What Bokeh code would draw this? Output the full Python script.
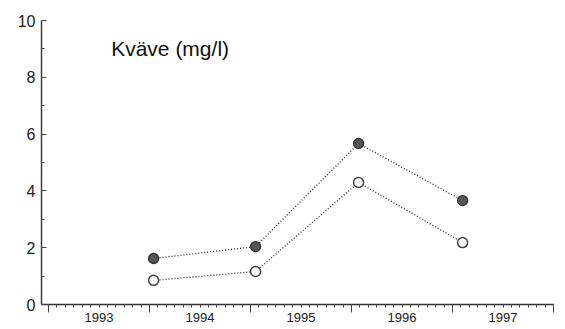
from bokeh.plotting import figure
from bokeh.models import LinearAxis, FixedTicker, Range1d, Label, CustomLabelingPolicy
from bokeh.embed import file_html
from bokeh.resources import INLINE

# data (decimal years)
dates = [1994.04, 1995.05, 1996.07, 1997.10]
filled_vals = [1.62, 2.04, 5.67, 3.66]
open_vals = [0.85, 1.16, 4.30, 2.18]

year_bounds = [1993, 1994, 1995, 1996, 1997, 1998]
year_labels = ["1993", "1994", "1995", "1996", "1997"]
y_major = [0, 2, 4, 6, 8, 10]
y_minor = [1, 3, 5, 7, 9]
title_text = "Kväve (mg/l)"

FONT = "Liberation Sans"

p = figure(frame_width=512, frame_height=284,
           x_range=Range1d(1992.93, 1998.0), y_range=Range1d(0, 10),
           output_backend="svg", toolbar_location=None,
           x_axis_location=None, y_axis_location=None,
           min_border_left=41, min_border_top=20, min_border_right=4,
           min_border_bottom=4)
p.outline_line_color = None
p.background_fill_color = "white"
p.border_fill_color = "white"
p.grid.visible = False

# y axis
yax = LinearAxis(ticker=FixedTicker(ticks=y_major, minor_ticks=y_minor))
yax.axis_line_color = "#333333"
yax.axis_line_width = 1.4
yax.major_tick_in = 5
yax.major_tick_out = 0
yax.minor_tick_in = 3
yax.minor_tick_out = 0
yax.major_tick_line_color = "#444444"
yax.minor_tick_line_color = "#444444"
yax.major_label_standoff = 6
yax.major_label_text_font = FONT
yax.major_label_text_font_size = "16px"
yax.major_label_text_color = "#222222"
p.add_layout(yax, "left")

# x axis: ticks at year boundaries and months, no labels
months = [year_bounds[0] + k / 12 for k in range(0, 12 * (len(year_bounds) - 1) + 1)]
xax = LinearAxis(ticker=FixedTicker(ticks=year_bounds, minor_ticks=months))
xax.axis_line_color = "#333333"
xax.axis_line_width = 1.4
xax.major_tick_in = 0
xax.major_tick_out = 8
xax.minor_tick_in = 0
xax.minor_tick_out = 3
xax.major_tick_line_color = "#444444"
xax.minor_tick_line_color = "#444444"
xax.major_label_standoff = 0
xax.major_label_text_font_size = "0px"
xax.major_label_policy = CustomLabelingPolicy(code="""
    for (const i of Array.from(indices)) indices.unset(i)
    return indices
""")
p.add_layout(xax, "below")

# x axis: year labels centred in each year
label_pos = [y + 0.5 for y in year_bounds[:-1]]
xlab = LinearAxis(ticker=FixedTicker(ticks=label_pos, minor_ticks=[]))
xlab.major_label_overrides = {pos: lab for pos, lab in zip(label_pos, year_labels)}
xlab.axis_line_color = None
xlab.major_tick_line_color = None
xlab.minor_tick_line_color = None
xlab.major_tick_in = 0
xlab.major_tick_out = 0
xlab.major_label_standoff = 0
xlab.major_label_text_font = FONT
xlab.major_label_text_font_size = "13px"
xlab.major_label_text_color = "#222222"
p.add_layout(xlab, "below")

# series
p.line(dates, filled_vals, line_dash="1 2", line_color="#333333", line_width=1.4)
p.line(dates, open_vals, line_dash="1 2", line_color="#333333", line_width=1.4)
p.scatter(dates, filled_vals, size=10, fill_color="#555555", line_color="#333333", line_width=1.3)
p.scatter(dates, open_vals, size=10, fill_color="white", line_color="#444444", line_width=1.5)

p.add_layout(Label(x=1993.62, y=9.0, text=title_text, text_font=FONT,
                   text_font_size="21px", text_baseline="middle", text_color="#111111"))

open("out.html", "w").write(file_html(p, INLINE))
